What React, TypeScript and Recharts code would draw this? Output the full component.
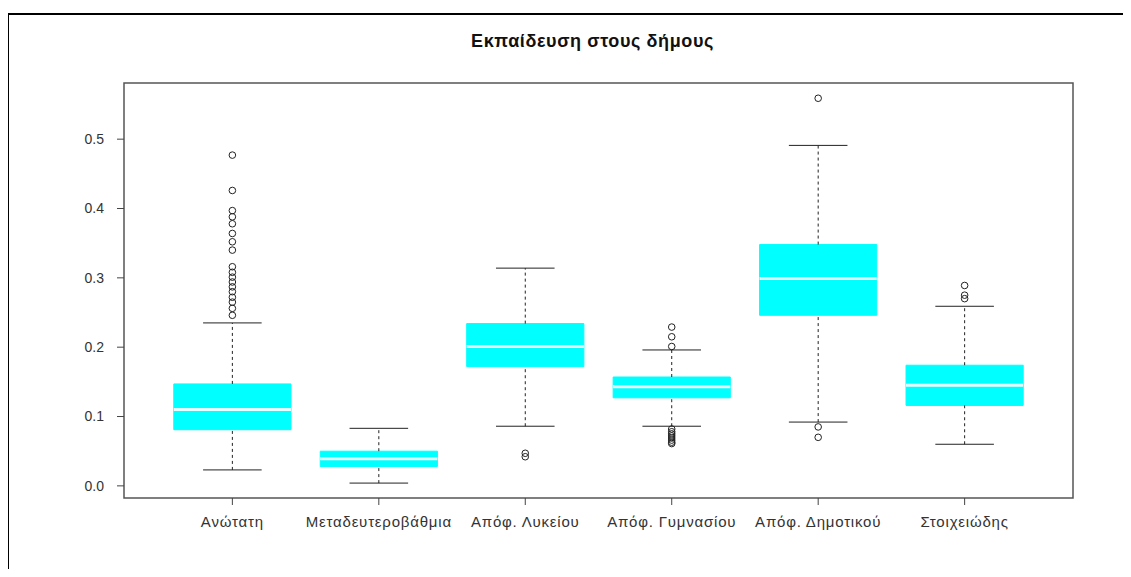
import {
  ComposedChart,
  ReferenceArea,
  ReferenceLine,
  Scatter,
  XAxis,
  YAxis,
} from "recharts";

const categories = [
  "Ανώτατη",
  "Μεταδευτεροβάθμια",
  "Απόφ. Λυκείου",
  "Απόφ. Γυμνασίου",
  "Απόφ. Δημοτικού",
  "Στοιχειώδης",
];
const lowerWhisker = [0.023, 0.004, 0.086, 0.086, 0.092, 0.06];
const q1 = [0.081, 0.028, 0.172, 0.127, 0.246, 0.116];
const median = [0.11, 0.039, 0.201, 0.143, 0.299, 0.145];
const q3 = [0.147, 0.05, 0.234, 0.157, 0.348, 0.174];
const upperWhisker = [0.235, 0.083, 0.314, 0.196, 0.491, 0.259];
const outliers = [
  [
    0.477, 0.426, 0.397, 0.388, 0.378, 0.364, 0.352, 0.34, 0.316, 0.308, 0.301,
    0.294, 0.287, 0.28, 0.272, 0.265, 0.256, 0.246,
  ],
  [],
  [0.047, 0.042],
  [0.229, 0.215, 0.201, 0.082, 0.078, 0.075, 0.072, 0.069, 0.066, 0.063, 0.061],
  [0.559, 0.085, 0.07],
  [0.289, 0.275, 0.27],
];
const yTicks = [0, 0.1, 0.2, 0.3, 0.4, 0.5];

const FONT = '"Liberation Sans", Arial, sans-serif';
const X_DOMAIN = [0.26, 6.74];
const Y_DOMAIN = [-0.0175, 0.581];
const HALF_BOX = 0.4;
const HALF_CAP = 0.2;
const BOX_FILL = "#00ffff";
const MEDIAN_STROKE = "#e2ffff";
const FRAME = "#555";

const positions = categories.map((_, i) => i + 1);
const outlierPoints = outliers.flatMap((vals, i) =>
  vals.map((v) => ({ x: positions[i], y: v }))
);

const OutlierDot = (props: any) => (
  <circle cx={props.cx} cy={props.cy} r={3.3} fill="none" stroke="#222" strokeWidth={1} />
);

export default function App() {
  return (
    <div style={{ position: "relative", width: 1131, height: 577, margin: -8, background: "#fff", overflow: "hidden" }}>
      <div
        style={{
          position: "absolute",
          left: 7,
          top: 13,
          right: -4,
          bottom: -4,
          borderTop: "2px solid #000",
          borderLeft: "2px solid #000",
        }}
      />
      <div
        style={{
          position: "absolute",
          left: 0,
          width: 1185,
          top: 31,
          textAlign: "center",
          fontFamily: FONT,
          fontWeight: "bold",
          fontSize: 18,
          color: "#111",
          letterSpacing: 0.6,
        }}
      >
        Εκπαίδευση στους δήμους
      </div>
      <div style={{ position: "absolute", left: 0, top: 0 }}>
        <ComposedChart
          width={1131}
          height={577}
          margin={{ top: 83, right: 58, bottom: 49, left: 64 }}
        >
          <XAxis
            type="number"
            dataKey="x"
            domain={X_DOMAIN}
            ticks={positions}
            tickFormatter={(v: number) => categories[v - 1] ?? ""}
            allowDataOverflow
            height={30}
            tickSize={7}
            tickMargin={11}
            interval={0}
            axisLine={false}
            tickLine={{ stroke: "#444" }}
            tick={{ fill: "#333", fontSize: 15, fontFamily: FONT, letterSpacing: 0.8 }}
          />
          <YAxis
            type="number"
            dataKey="y"
            domain={Y_DOMAIN}
            ticks={yTicks}
            allowDataOverflow
            width={60}
            tickSize={7}
            tickMargin={13}
            tickFormatter={(v: number) => v.toFixed(1)}
            axisLine={false}
            tickLine={{ stroke: "#444" }}
            tick={{ fill: "#333", fontSize: 14, fontFamily: FONT }}
          />
          <ReferenceArea
            x1={X_DOMAIN[0]}
            x2={X_DOMAIN[1]}
            y1={Y_DOMAIN[0]}
            y2={Y_DOMAIN[1]}
            fill="none"
            stroke={FRAME}
            strokeWidth={1.5}
          />
          {positions.map((p, i) => (
            <ReferenceLine
              key={`wu${i}`}
              segment={[
                { x: p, y: q3[i] },
                { x: p, y: upperWhisker[i] },
              ]}
              stroke="#222"
              strokeDasharray="3 3"
              strokeWidth={1}
            />
          ))}
          {positions.map((p, i) => (
            <ReferenceLine
              key={`wl${i}`}
              segment={[
                { x: p, y: lowerWhisker[i] },
                { x: p, y: q1[i] },
              ]}
              stroke="#222"
              strokeDasharray="3 3"
              strokeWidth={1}
            />
          ))}
          {positions.map((p, i) => (
            <ReferenceLine
              key={`cu${i}`}
              segment={[
                { x: p - HALF_CAP, y: upperWhisker[i] },
                { x: p + HALF_CAP, y: upperWhisker[i] },
              ]}
              stroke="#222"
              strokeWidth={1}
            />
          ))}
          {positions.map((p, i) => (
            <ReferenceLine
              key={`cl${i}`}
              segment={[
                { x: p - HALF_CAP, y: lowerWhisker[i] },
                { x: p + HALF_CAP, y: lowerWhisker[i] },
              ]}
              stroke="#222"
              strokeWidth={1}
            />
          ))}
          {positions.map((p, i) => (
            <ReferenceArea
              key={`b${i}`}
              x1={p - HALF_BOX}
              x2={p + HALF_BOX}
              y1={q1[i]}
              y2={q3[i]}
              fill={BOX_FILL}
              fillOpacity={1}
              stroke={BOX_FILL}
            />
          ))}
          {positions.map((p, i) => (
            <ReferenceLine
              key={`m${i}`}
              segment={[
                { x: p - HALF_BOX, y: median[i] },
                { x: p + HALF_BOX, y: median[i] },
              ]}
              stroke={MEDIAN_STROKE}
              strokeWidth={3}
            />
          ))}
          <Scatter
            data={outlierPoints}
            dataKey="y"
            shape={OutlierDot}
            isAnimationActive={false}
          />
        </ComposedChart>
      </div>
    </div>
  );
}
